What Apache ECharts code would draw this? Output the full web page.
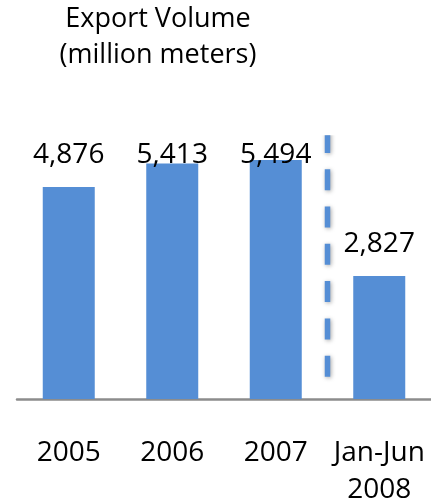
<!DOCTYPE html>
<html>
<head>
<meta charset="utf-8">
<script src="https://cdn.jsdelivr.net/npm/echarts@6/dist/echarts.min.js"></script>
<style>
  html, body { margin: 0; padding: 0; background: #ffffff; }
  #chart { width: 431px; height: 503px; }
</style>
</head>
<body>
<div id="chart"></div>
<script>
// Export volume by period, million meters
const categories = ['2005', '2006', '2007', 'Jan-Jun\n2008'];
const exportVolume = [4876, 5413, 5494, 2827];
// Dashed divider between full years and the half-year figure (x in category units, y in value units)
const dividerX = [3, 3];
const dividerY = [6140, 506];

const FONT = '"Open Sans", "Noto Sans", sans-serif';
const BLUE = '#558ED5';
// Value labels never rise above this line; taller bars get their label pressed onto the bar
const LABEL_CEILING = 141;

const chart = echarts.init(document.getElementById('chart'), null, { renderer: 'canvas' });

chart.setOption({
  animation: false,
  backgroundColor: '#ffffff',
  title: {
    text: 'Export Volume\n(million meters)',
    left: 153,
    top: -4,
    textAlign: 'center',
    textStyle: {
      fontFamily: FONT,
      fontSize: 27,
      fontWeight: 'normal',
      color: '#000000',
      lineHeight: 36
    }
  },
  grid: { left: 17, right: 0, top: 138, bottom: 104, outerBoundsMode: 'none', containLabel: false },
  xAxis: [
    {
      type: 'category',
      data: categories,
      axisTick: { show: false },
      axisLine: { lineStyle: { color: '#8C8C8C', width: 2.5 } },
      axisLabel: {
        fontFamily: FONT,
        fontSize: 28,
        color: '#000000',
        lineHeight: 37,
        margin: 36,
        interval: 0
      }
    },
    {
      type: 'value',
      min: 0,
      max: 4,
      show: false
    }
  ],
  yAxis: {
    type: 'value',
    min: 0,
    max: 6000,
    show: false,
    splitLine: { show: false }
  },
  series: [
    {
      type: 'bar',
      data: exportVolume,
      barWidth: 52,
      itemStyle: { color: BLUE },
      label: {
        show: true,
        position: 'top',
        distance: 18,
        fontFamily: FONT,
        fontSize: 28,
        color: '#000000',
        formatter: (p) => p.value.toLocaleString('en-US')
      },
      labelLayout: (params) => {
        const r = params.labelRect;
        if (r.y >= LABEL_CEILING) return {};
        return {
          x: r.x + r.width / 2,
          y: LABEL_CEILING,
          align: 'center',
          verticalAlign: 'top'
        };
      }
    },
    {
      type: 'line',
      xAxisIndex: 1,
      data: dividerX.map((x, i) => [x, dividerY[i]]),
      symbol: 'none',
      silent: true,
      lineStyle: {
        color: BLUE,
        width: 5.5,
        type: [21, 16.3],
        cap: 'butt',
        shadowColor: 'rgba(0,0,0,0.35)',
        shadowBlur: 4,
        shadowOffsetX: 1,
        shadowOffsetY: 1
      }
    }
  ]
});
</script>
</body>
</html>
